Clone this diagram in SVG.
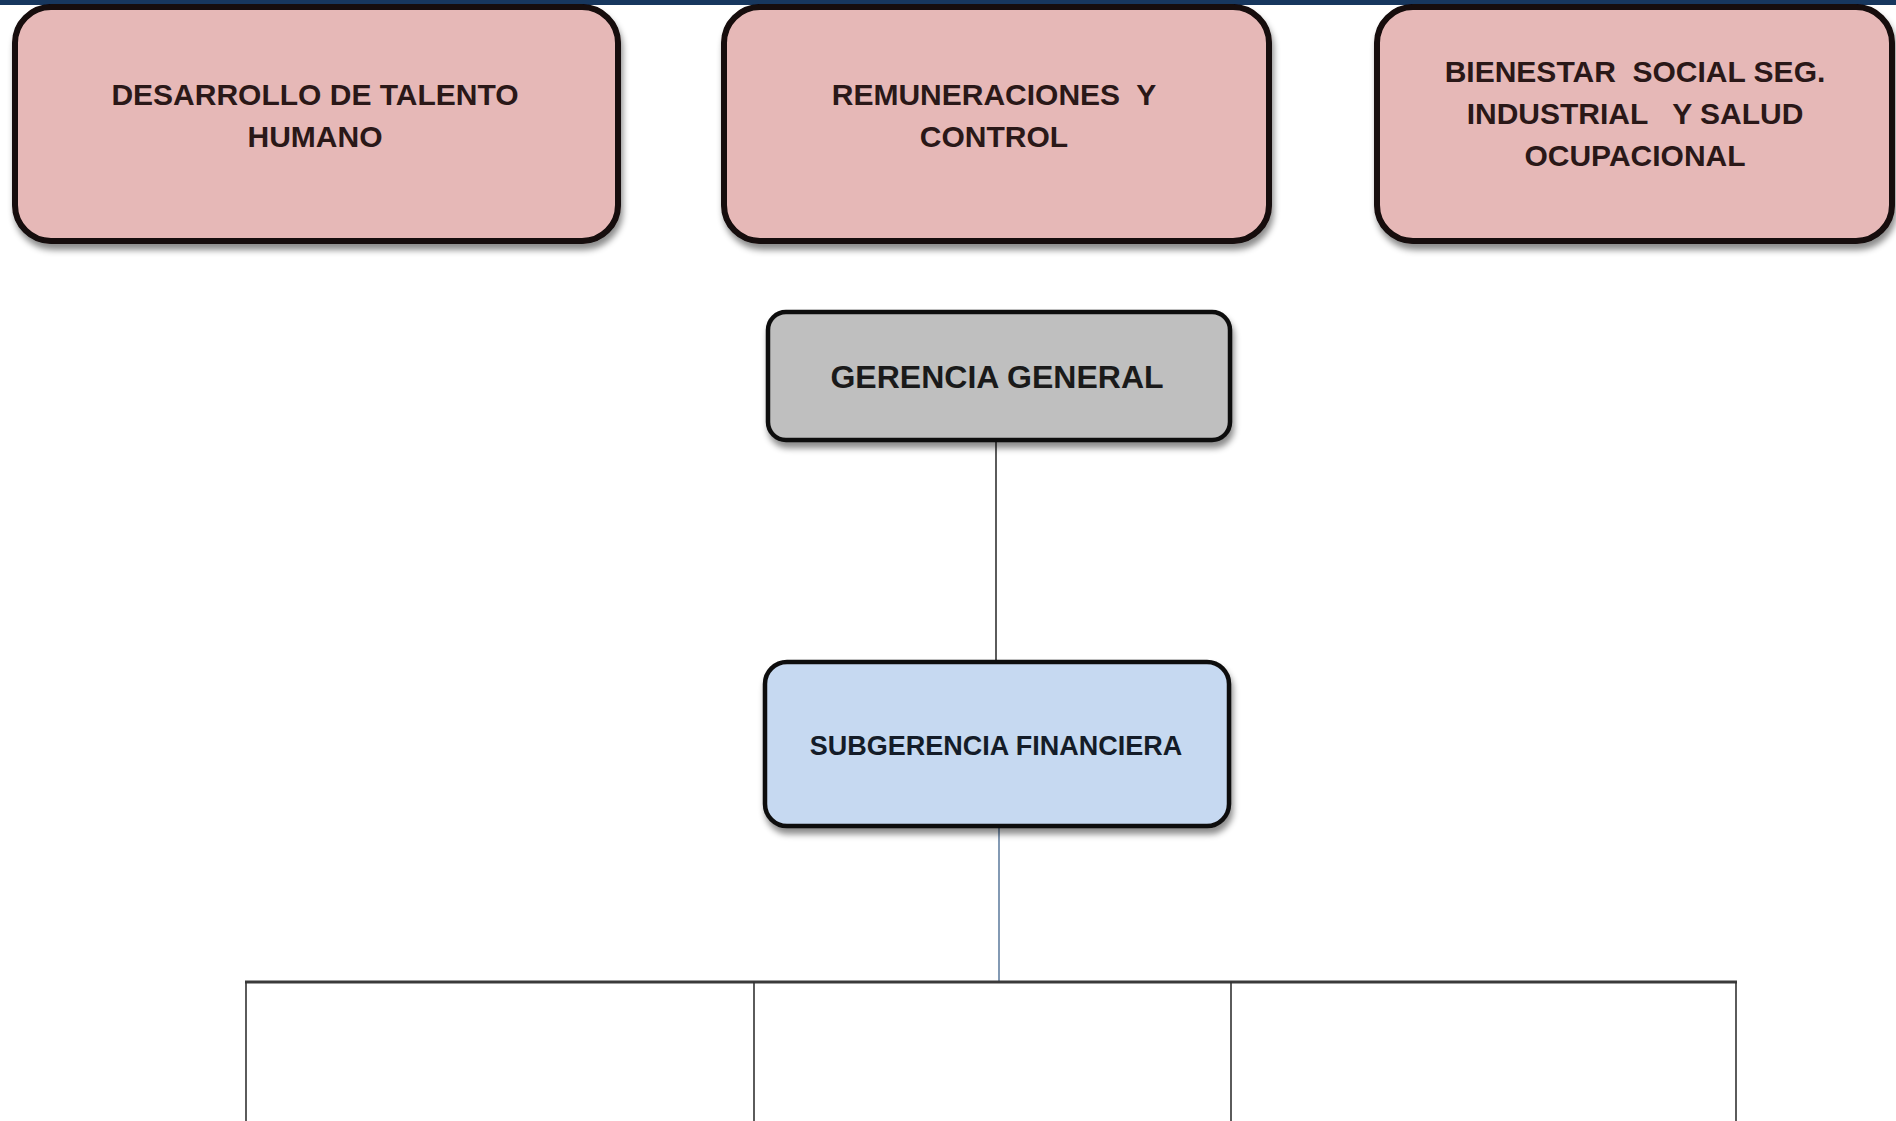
<svg xmlns="http://www.w3.org/2000/svg" width="1896" height="1121" viewBox="0 0 1896 1121">
<defs>
<filter id="sh" x="-10%" y="-10%" width="125%" height="135%">
<feDropShadow dx="2" dy="6" stdDeviation="3" flood-color="#000" flood-opacity="0.45"/>
</filter>
<style>
.pink{fill:#e6b8b7;stroke:#120808;stroke-width:6}
.gray{fill:#bfbfbf;stroke:#111;stroke-width:4.5}
.blue{fill:#c6d9f1;stroke:#111;stroke-width:4.5}
text{font-family:"Liberation Sans",Arial,sans-serif;font-weight:bold;text-anchor:middle;white-space:pre}
.pt{font-size:30px;fill:#2a1818}
.gt{font-size:32px;fill:#1a1a1a}
.bt{font-size:27px;fill:#141c28}
.conn{fill:none;stroke:#333;stroke-width:1.6}
</style>
</defs>
<rect x="0" y="0" width="1896" height="1121" fill="#ffffff"/>
<rect x="0" y="0" width="1896" height="5" fill="#17375e"/>
<g id="connectors">
<line class="conn" x1="996" y1="441" x2="996" y2="661"/>
<line x1="999" y1="827" x2="999" y2="982" stroke="#4f6f94" stroke-width="1.4"/>
<line x1="245" y1="982" x2="1737" y2="982" stroke="#3a3a3a" stroke-width="2.8"/>
<line class="conn" x1="246" y1="982" x2="246" y2="1121"/>
<line class="conn" x1="754" y1="982" x2="754" y2="1121"/>
<line class="conn" x1="1231" y1="982" x2="1231" y2="1121"/>
<line class="conn" x1="1736" y1="982" x2="1736" y2="1121"/>
</g>
<g id="desarrollo">
<rect class="pink" x="15" y="7" width="603" height="234" rx="36" filter="url(#sh)"/>
<text class="pt" x="315" y="105">DESARROLLO DE TALENTO</text>
<text class="pt" x="315" y="147">HUMANO</text>
</g>
<g id="remuneraciones">
<rect class="pink" x="724" y="7" width="545" height="234" rx="36" filter="url(#sh)"/>
<text class="pt" x="994" y="105">REMUNERACIONES  Y</text>
<text class="pt" x="994" y="147">CONTROL</text>
</g>
<g id="bienestar">
<rect class="pink" x="1377" y="7" width="515" height="234" rx="36" filter="url(#sh)"/>
<text class="pt" x="1635" y="82">BIENESTAR  SOCIAL SEG.</text>
<text class="pt" x="1635" y="124">INDUSTRIAL   Y SALUD</text>
<text class="pt" x="1635" y="166">OCUPACIONAL</text>
</g>
<g id="gerencia">
<rect class="gray" x="768" y="312" width="462" height="128" rx="18" filter="url(#sh)"/>
<text class="gt" x="997" y="388">GERENCIA GENERAL</text>
</g>
<g id="subgerencia">
<rect class="blue" x="765" y="662" width="464" height="164" rx="22" filter="url(#sh)"/>
<text class="bt" x="996" y="755">SUBGERENCIA FINANCIERA</text>
</g>
</svg>
